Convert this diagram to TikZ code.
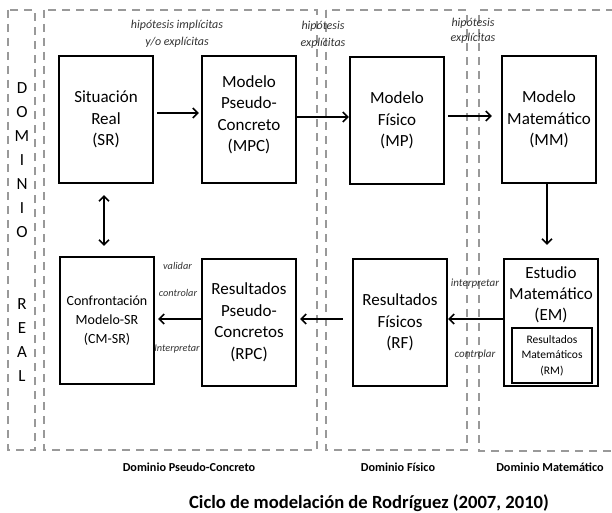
\documentclass[tikz,border=0pt]{standalone}
\usepackage{fontspec}
\setmainfont{Carlito}
\usetikzlibrary{arrows.meta,positioning}
\begin{document}
\begin{tikzpicture}[x=1pt,y=-1pt,
    box/.style={draw,line width=2.2pt,minimum width=94pt,minimum height=127pt,align=center,inner sep=0pt,font=\fontsize{17}{21.5}\selectfont},
    region/.style={draw=gray!80,line width=1.6pt,dash pattern=on 8pt off 6pt},
    arr/.style={line width=1.6pt,-{Straight Barb[length=5pt,width=10pt]}},
    hyp/.style={font=\fontsize{12}{17}\selectfont\itshape,align=center,text=black!80},
    ctl/.style={font=\fontsize{10.3}{12}\selectfont\itshape,text=black!80},
    dom/.style={font=\fontsize{12.2}{14}\selectfont\bfseries}]
    \useasboundingbox (0,0) rectangle (612,513);
    % dominios
    \draw[region] (8,10) rectangle (35,450);
    \draw[region] (44,10) rectangle (317,450);
    \draw[region] (326,10) rectangle (467,450);
    \draw[region] (614,10) -- (479,10) -- (479,451) -- (614,451);
    \node (dr) at (22,232) [align=center,font=\fontsize{17}{24}\selectfont] {D\\O\\M\\I\\N\\I\\O\\ \\ \\R\\E\\A\\L};
    % fila superior
    \node (sr) at (106,119.5) [box] {Situación\\Real\\(SR)};
    \node (mpc) at (249,119.5) [box,text depth=12pt] {Modelo\\Pseudo-\\Concreto\\(MPC)};
    \node (mp) at (397,120.5) [box] {Modelo\\Físico\\(MP)};
    \node (mm) at (549,119.5) [box] {Modelo\\Matemático\\(MM)};
    % fila inferior
    \node (cmsr) at (107,320.5) [box,font=\fontsize{14}{19}\selectfont] {Confrontación\\Modelo-SR\\(CM-SR)};
    \node (rpc) at (249,322.5) [box] {Resultados\\Pseudo-\\Concretos\\(RPC)};
    \node (rf) at (400,322.5) [box] {Resultados\\Físicos\\(RF)};
    \node (em) at (551,322.5) [box] {};
    \node (emtxt) [below=5pt of em.north,align=center,font=\fontsize{17}{21}\selectfont] {Estudio\\Matemático\\(EM)};
    \node (rm) at (552,355.5) [draw,line width=1.6pt,minimum width=80pt,minimum height=55pt,align=center,inner sep=0pt,font=\fontsize{11.5}{15.5}\selectfont] {Resultados\\Matemáticos\\(RM)};
    % flechas
    \draw[arr,shorten <=3pt,shorten >=2pt] ([yshift=6.5pt]sr.east) -- ([yshift=6.5pt]sr.east -| mpc.west);
    \draw[arr] ([yshift=2.5pt]mpc.east) -- ([yshift=2.5pt]mpc.east -| mp.west);
    \draw[arr,shorten <=3pt,shorten >=9pt] ([yshift=4.5pt]mp.east) -- ([yshift=4.5pt]mp.east -| mm.west);
    \draw[arr,shorten >=13pt] ([xshift=-2pt]mm.south) -- ([xshift=-2pt]mm.south |- em.north);
    \draw[arr] ([yshift=3.5pt]em.west) -- ([yshift=3.5pt]em.west -| rf.east);
    \draw[arr,shorten <=9pt,shorten >=3pt] ([yshift=3.5pt]rf.west) -- ([yshift=3.5pt]rf.west -| rpc.east);
    \draw[arr,shorten >=3pt] ([yshift=3.5pt]rpc.west) -- ([yshift=3.5pt]rpc.west -| cmsr.east);
    \draw[line width=1.6pt,{Straight Barb[length=5pt,width=10pt]}-{Straight Barb[length=5pt,width=10pt]},shorten <=11pt,shorten >=10pt] ([xshift=-2pt]sr.south) -- ([xshift=-2pt]sr.south |- cmsr.north);
    % etiquetas
    \node (hip1) at (177,34) [hyp] {hipótesis implícitas\\y/o explícitas};
    \node (hip2) at (323,35) [hyp] {hipótesis\\explícitas};
    \node (hip3) at (473,31) [hyp,font=\fontsize{12}{15.5}\selectfont\itshape] {hipótesis\\explícitas};
    \node (val) at (177.5,266) [ctl] {validar};
    \node (con1) at (178,293) [ctl] {controlar};
    \node (int1) at (177,349) [ctl] {Interpretar};
    \node (int2) at (475,284) [ctl,font=\fontsize{11}{13}\selectfont\itshape] {interpretar};
    \node (con2) at (475,354) [ctl,font=\fontsize{11}{13}\selectfont\itshape] {controlar};
    \node (dpc) at (189,467) [dom] {Dominio Pseudo-Concreto};
    \node (df) at (398,467) [dom] {Dominio Físico};
    \node (dm) at (550,467) [dom] {Dominio Matemático};
    \node (tit) at (369,503) [font=\fontsize{18.6}{20}\selectfont\bfseries] {Ciclo de modelación de Rodríguez (2007, 2010)};
\end{tikzpicture}
\end{document}
